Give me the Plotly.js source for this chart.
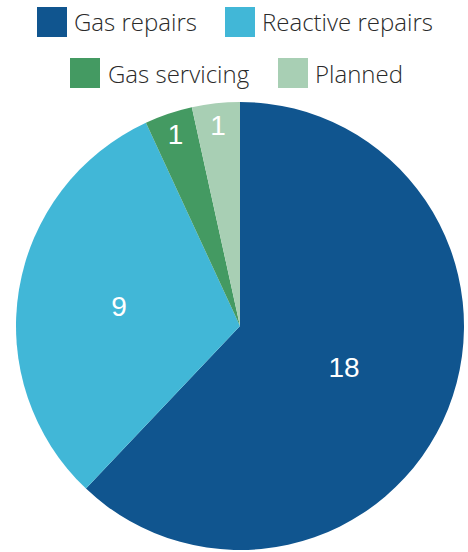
<!DOCTYPE html>
<html><head><meta charset="utf-8">
<script src="https://cdn.plot.ly/plotly-3.0.1.min.js"></script>
<style>html,body{margin:0;padding:0;background:#fff}#chart{width:468px;height:552px}</style>
</head><body><div id="chart"></div>
<script>
const categories = ["Gas repairs", "Reactive repairs", "Gas servicing", "Planned"];
const values = [18, 9, 1, 1];
const colors = ["#10558f", "#41b7d7", "#449a62", "#a8cfb4"];

const W = 468, H = 552, mL = 16, mR = 4, mT = 102, mB = 2;
const pw = W - mL - mR, ph = H - mT - mB;
const px = x => (x - mL) / pw;
const py = y => (H - mB - y) / ph;

// legend layout: [squareLeft, squareTop, textLeft]
const legendPos = [[37, 7, 74], [225, 7, 262], [70, 58, 108], [278, 58, 315]];
const sq = 30;
const shapes = [], annotations = [];
categories.forEach((c, i) => {
  const [sx, sy, tx] = legendPos[i];
  shapes.push({type: "rect", xref: "paper", yref: "paper",
    x0: px(sx), x1: px(sx + sq), y0: py(sy + sq), y1: py(sy),
    fillcolor: colors[i], line: {width: 0}});
  annotations.push({xref: "paper", yref: "paper", x: px(tx - 2), y: py(sy + sq / 2),
    xanchor: "left", yanchor: "middle", text: c, showarrow: false,
    font: {family: "Open Sans", size: 24, weight: 300, color: "#2a2a2a"}});
});

Plotly.newPlot("chart", [{
  type: "pie", labels: categories, values: values,
  marker: {colors: colors, line: {width: 0}},
  sort: false, direction: "clockwise", rotation: 0,
  textinfo: "value", textposition: "inside", insidetextorientation: "horizontal",
  textfont: {family: "Liberation Sans, Arial, sans-serif", size: 28, color: "#ffffff"},
  hoverinfo: "none", showlegend: false
}], {
  width: W, height: H, margin: {l: mL, r: mR, t: mT, b: mB},
  paper_bgcolor: "#fff", showlegend: false, shapes: shapes, annotations: annotations
}, {displayModeBar: false, staticPlot: true});
</script></body></html>
